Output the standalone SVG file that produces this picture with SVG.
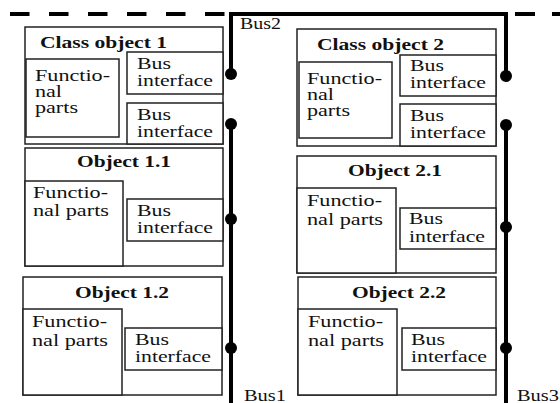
<svg xmlns="http://www.w3.org/2000/svg" width="560" height="403" viewBox="0 0 560 403">
<style>
.box{fill:#fff;stroke:#222;stroke-width:1.5}
.t{font-family:"Liberation Serif","Times New Roman",serif;font-size:16px;fill:#111}
.b{font-family:"Liberation Serif","Times New Roman",serif;font-size:16px;font-weight:bold;fill:#111}
.bus{fill:none;stroke:#000;stroke-width:4}
.dash{fill:none;stroke:#000;stroke-width:4;stroke-dasharray:19.5 19.5}
.dot{fill:#000}
</style>
<rect width="560" height="403" fill="#fff"/>
<g id="class1">
<rect class="box" x="25" y="27" width="198" height="117"/>
<rect class="box" x="26" y="59" width="93" height="78"/>
<rect class="box" x="127" y="52" width="96" height="42"/>
<rect class="box" x="127" y="103" width="96" height="41"/>
<text class="b" x="40" y="48" textLength="127" lengthAdjust="spacingAndGlyphs">Class object 1</text>
<text class="t" x="35" y="81" textLength="75" lengthAdjust="spacingAndGlyphs">Functio-</text>
<text class="t" x="35" y="97" textLength="27" lengthAdjust="spacingAndGlyphs">nal</text>
<text class="t" x="35" y="113" textLength="43" lengthAdjust="spacingAndGlyphs">parts</text>
<text class="t" x="137" y="69" textLength="34" lengthAdjust="spacingAndGlyphs">Bus</text>
<text class="t" x="137" y="86" textLength="76" lengthAdjust="spacingAndGlyphs">interface</text>
<text class="t" x="137" y="120" textLength="34" lengthAdjust="spacingAndGlyphs">Bus</text>
<text class="t" x="137" y="137" textLength="76" lengthAdjust="spacingAndGlyphs">interface</text>
</g>
<g id="class2">
<rect class="box" x="297" y="29" width="199" height="117"/>
<rect class="box" x="299" y="62" width="93" height="76"/>
<rect class="box" x="400" y="55" width="96" height="41"/>
<rect class="box" x="400" y="104" width="96" height="42"/>
<text class="b" x="317" y="50" textLength="127" lengthAdjust="spacingAndGlyphs">Class object 2</text>
<text class="t" x="307" y="84" textLength="75" lengthAdjust="spacingAndGlyphs">Functio-</text>
<text class="t" x="307" y="100" textLength="27" lengthAdjust="spacingAndGlyphs">nal</text>
<text class="t" x="307" y="116" textLength="43" lengthAdjust="spacingAndGlyphs">parts</text>
<text class="t" x="410" y="71" textLength="34" lengthAdjust="spacingAndGlyphs">Bus</text>
<text class="t" x="410" y="88" textLength="76" lengthAdjust="spacingAndGlyphs">interface</text>
<text class="t" x="410" y="121" textLength="34" lengthAdjust="spacingAndGlyphs">Bus</text>
<text class="t" x="410" y="138" textLength="76" lengthAdjust="spacingAndGlyphs">interface</text>
</g>
<g id="obj11">
<rect class="box" x="25" y="148" width="198" height="118"/>
<rect class="box" x="25" y="181" width="98" height="85"/>
<rect class="box" x="127" y="199" width="96" height="42"/>
<text class="b" x="77" y="167" textLength="94" lengthAdjust="spacingAndGlyphs">Object 1.1</text>
<text class="t" x="33" y="198" textLength="75" lengthAdjust="spacingAndGlyphs">Functio-</text>
<text class="t" x="33" y="216" textLength="76" lengthAdjust="spacingAndGlyphs">nal parts</text>
<text class="t" x="137" y="216" textLength="34" lengthAdjust="spacingAndGlyphs">Bus</text>
<text class="t" x="137" y="233" textLength="76" lengthAdjust="spacingAndGlyphs">interface</text>
</g>
<g id="obj21">
<rect class="box" x="297" y="156" width="199" height="117"/>
<rect class="box" x="297" y="188" width="99" height="85"/>
<rect class="box" x="400" y="208" width="96" height="41"/>
<text class="b" x="348" y="176" textLength="94" lengthAdjust="spacingAndGlyphs">Object 2.1</text>
<text class="t" x="307" y="206" textLength="75" lengthAdjust="spacingAndGlyphs">Functio-</text>
<text class="t" x="307" y="225" textLength="76" lengthAdjust="spacingAndGlyphs">nal parts</text>
<text class="t" x="409" y="224" textLength="34" lengthAdjust="spacingAndGlyphs">Bus</text>
<text class="t" x="409" y="242" textLength="76" lengthAdjust="spacingAndGlyphs">interface</text>
</g>
<g id="obj12">
<rect class="box" x="23" y="277" width="199" height="118"/>
<rect class="box" x="23" y="309" width="99" height="86"/>
<rect class="box" x="125" y="328" width="97" height="42"/>
<text class="b" x="75" y="298" textLength="94" lengthAdjust="spacingAndGlyphs">Object 1.2</text>
<text class="t" x="32" y="327" textLength="75" lengthAdjust="spacingAndGlyphs">Functio-</text>
<text class="t" x="32" y="346" textLength="76" lengthAdjust="spacingAndGlyphs">nal parts</text>
<text class="t" x="135" y="345" textLength="34" lengthAdjust="spacingAndGlyphs">Bus</text>
<text class="t" x="135" y="362" textLength="76" lengthAdjust="spacingAndGlyphs">interface</text>
</g>
<g id="obj22">
<rect class="box" x="298" y="277" width="198" height="118"/>
<rect class="box" x="298" y="309" width="99" height="86"/>
<rect class="box" x="402" y="328" width="94" height="42"/>
<text class="b" x="352" y="298" textLength="94" lengthAdjust="spacingAndGlyphs">Object 2.2</text>
<text class="t" x="308" y="327" textLength="75" lengthAdjust="spacingAndGlyphs">Functio-</text>
<text class="t" x="308" y="346" textLength="76" lengthAdjust="spacingAndGlyphs">nal parts</text>
<text class="t" x="411" y="345" textLength="34" lengthAdjust="spacingAndGlyphs">Bus</text>
<text class="t" x="411" y="362" textLength="76" lengthAdjust="spacingAndGlyphs">interface</text>
</g>
<g id="connectors">
<path class="dash" d="M10,14 H226"/>
<path class="dash" style="stroke-dasharray:20 17" d="M515,14 H560"/>
<path class="bus" d="M231,74 V14 H506 V76"/>
<path class="bus" d="M231,124 V403"/>
<path class="bus" d="M506,125 V403"/>
<circle class="dot" cx="231" cy="74" r="6"/>
<circle class="dot" cx="231" cy="124" r="6"/>
<circle class="dot" cx="231" cy="219" r="6"/>
<circle class="dot" cx="231" cy="348" r="6"/>
<circle class="dot" cx="506" cy="76" r="6"/>
<circle class="dot" cx="506" cy="125" r="6"/>
<circle class="dot" cx="506" cy="227" r="6"/>
<circle class="dot" cx="506" cy="348" r="6"/>
<text class="t" x="240" y="29" textLength="41" lengthAdjust="spacingAndGlyphs">Bus2</text>
<text class="t" x="244" y="401" textLength="42" lengthAdjust="spacingAndGlyphs">Bus1</text>
<text class="t" x="517" y="401" textLength="42" lengthAdjust="spacingAndGlyphs">Bus3</text>
</g>
</svg>
